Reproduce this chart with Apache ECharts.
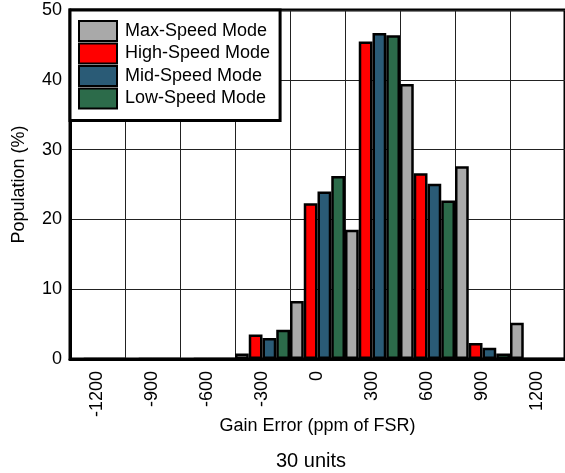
<!DOCTYPE html>
<html>
<head>
<meta charset="utf-8">
<script src="https://cdn.jsdelivr.net/npm/echarts@6/dist/echarts.min.js"></script>
<style>
html,body{margin:0;padding:0;background:#fff;}
#chart{width:565px;height:473px;}
</style>
</head>
<body>
<div id="chart"></div>
<script>
var categories = ['-1200','-900','-600','-300','0','300','600','900','1200'];
var maxSpeed  = [null, null, null, 0.8, 8.3, 18.5, 39.4, 27.6, 5.2];
var highSpeed = [0, 0, 0, 3.5, 22.3, 45.5, 26.6, 2.3, 0];
var midSpeed  = [0, 0, 0, 3.0, 24.0, 46.7, 25.1, 1.6, 0];
var lowSpeed  = [0, 0, 0, 4.2, 26.2, 46.4, 22.7, 0.8, 0];
var seriesNames = ['Max-Speed Mode','High-Speed Mode','Mid-Speed Mode','Low-Speed Mode'];
var seriesColors = ['#A9A9A9','#FF0000','#2A5B76','#2C6B4A'];
var yTicks = {min:0, max:50, interval:10};

var FONT = '"Liberation Sans", Arial, sans-serif';
var chart = echarts.init(document.getElementById('chart'), null, {renderer:'canvas'});
var datas = [maxSpeed, highSpeed, midSpeed, lowSpeed];
var series = datas.map(function(d, i){
  return {
    name: seriesNames[i],
    type: 'bar',
    data: d,
    barGap: '0%',
    barCategoryGap: '0%',
    itemStyle: {color: seriesColors[i], borderColor:'#000', borderWidth:2.5},
    emphasis: {disabled:true},
    z: 3
  };
});
chart.setOption({
  animation: false,
  title: {
    text: '30 units',
    left: 276,
    top: 451,
    padding: 0,
    textStyle: {fontFamily: FONT, fontSize: 20, fontWeight: 'normal', color:'#000'}
  },
  legend: {
    orient: 'vertical',
    left: 70,
    top: 10,
    padding: [10, 10, 11, 8],
    backgroundColor: '#fff',
    borderColor: '#000',
    borderWidth: 3,
    borderRadius: 0,
    itemWidth: 38,
    itemHeight: 20,
    itemGap: 0.5,
    icon: 'rect',
    data: seriesNames,
    textStyle: {fontFamily: FONT, fontSize: 18, color:'#000', padding:[0,0,0,3]},
    z: 10
  },
  grid: {
    left: 70, top: 10, right: 0, bottom: 114,
    show: true, borderColor: '#000', borderWidth: 3, backgroundColor:'#fff'
  },
  xAxis: {
    type: 'category',
    data: categories,
    name: 'Gain Error (ppm of FSR)',
    nameLocation: 'middle',
    nameGap: 58,
    nameMoveOverlap: false,
    nameTextStyle: {fontFamily: FONT, fontSize: 18, color:'#000'},
    axisLine: {show:true, lineStyle:{color:'#000', width:3}},
    axisTick: {show:false},
    axisLabel: {rotate: 90, margin: 12, fontFamily: FONT, fontSize: 18, color:'#000', interval: 0},
    splitLine: {show:true, interval: 0, lineStyle:{color:'#222', width:1}}
  },
  yAxis: {
    type: 'value',
    min: yTicks.min, max: yTicks.max, interval: yTicks.interval,
    name: 'Population (%)',
    nameLocation: 'middle',
    nameGap: 42,
    nameMoveOverlap: false,
    nameTextStyle: {fontFamily: FONT, fontSize: 18, color:'#000'},
    axisLine: {show:true, lineStyle:{color:'#000', width:3}},
    axisTick: {show:false},
    axisLabel: {margin: 8, fontFamily: FONT, fontSize: 18, color:'#000'},
    splitLine: {show:true, lineStyle:{color:'#222', width:1}}
  },
  series: series
});
</script>
</body>
</html>
